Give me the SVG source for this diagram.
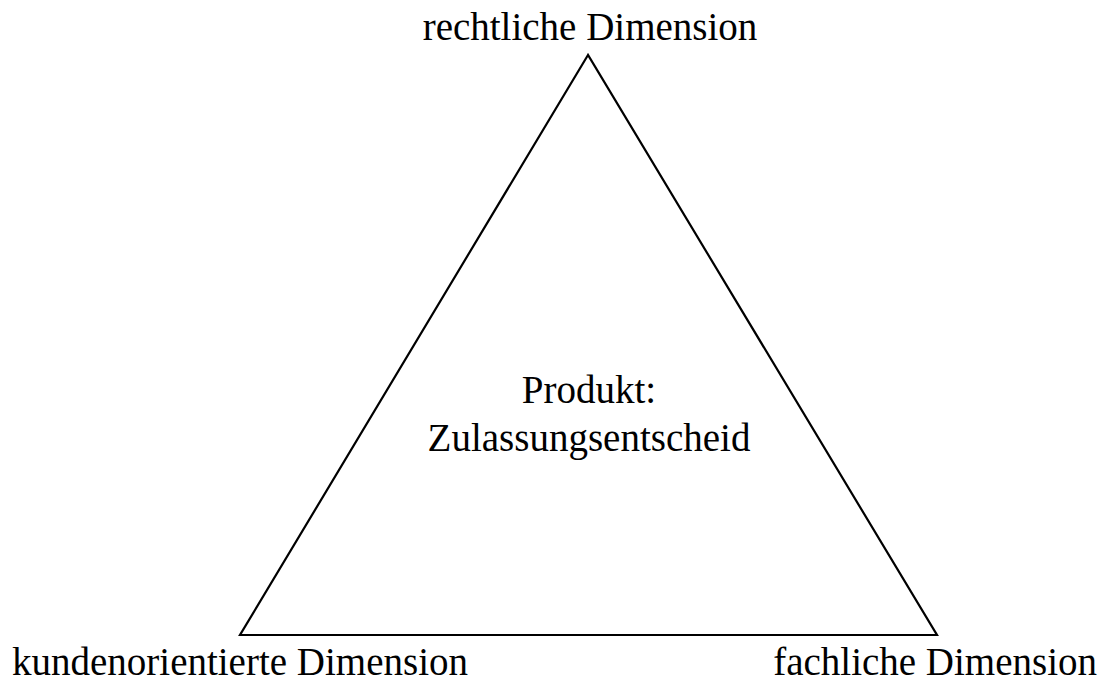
<svg xmlns="http://www.w3.org/2000/svg" width="1105" height="684" viewBox="0 0 1105 684">
<style>
text{font-family:"Liberation Serif","Times New Roman",serif;font-size:39px;fill:#000}
.tri{fill:none;stroke:#000;stroke-width:2.2;stroke-linejoin:miter}
</style>
<rect width="1105" height="684" fill="#fff"/>
<g id="connectors">
<polygon class="tri" points="588,55 240,635 937,635"/>
</g>
<g id="top"><text x="590" y="40" text-anchor="middle">rechtliche Dimension</text></g>
<g id="left"><text x="12" y="675">kundenorientierte Dimension</text></g>
<g id="right"><text x="1097" y="675" text-anchor="end">fachliche Dimension</text></g>
<g id="center"><text x="589" y="403" text-anchor="middle">Produkt:</text><text x="589" y="451" text-anchor="middle">Zulassungsentscheid</text></g>
</svg>
